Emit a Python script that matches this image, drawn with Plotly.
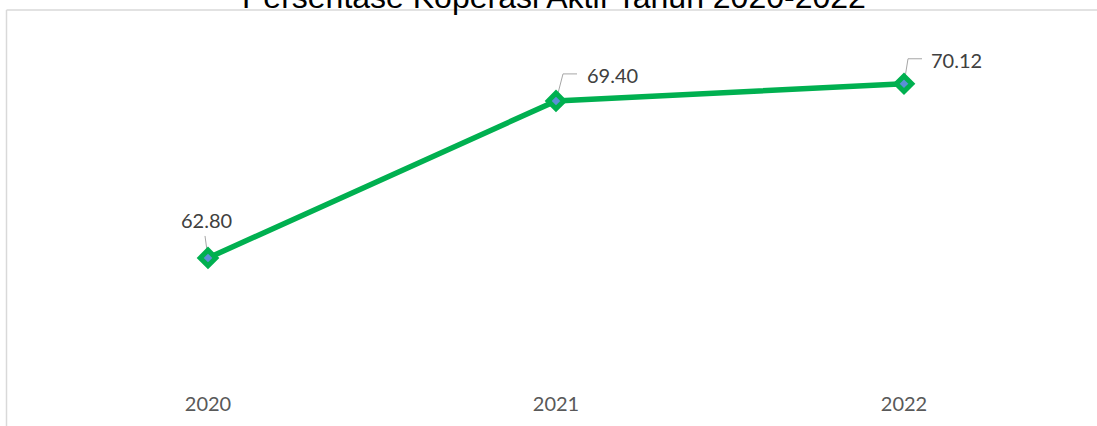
import plotly.graph_objects as go

years = ["2020", "2021", "2022"]
values = [62.80, 69.40, 70.12]
labels = ["62.80", "69.40", "70.12"]
title_text = "Persentase Koperasi Aktif Tahun 2020-2022"

# label offsets (pixels) and leader-line paths (pixels relative to point)
label_shift = [(-2, 38), (56, 25.5), (52, 24)]
leader_paths = [
    "M 0 0 L -3 22",
    "M 0 0 L 7 27 L 21 27",
    "M 0 0 L 4 25 L 18 25",
]

W, H = 1097, 426
ML, MR, MT, MB = 34, 19, 30, 36
pw = W - ML - MR
ph = H - MT - MB

def px(p):
    return (p - ML) / pw

def py(q):
    return (H - MB - q) / ph

green = "#00B050"

fig = go.Figure()
fig.add_trace(go.Scatter(
    x=years, y=values, mode="lines+markers",
    line=dict(color=green, width=5.5),
    marker=dict(symbol="diamond", size=12, color="#5B8FD8",
                line=dict(color=green, width=5)),
    hoverinfo="skip", showlegend=False,
))

shapes = []
for i, (yr, v, path) in enumerate(zip(years, values, leader_paths)):
    shapes.append(dict(type="path", xref="x", yref="y",
                       xsizemode="pixel", ysizemode="pixel",
                       xanchor=i, yanchor=v, path=path,
                       line=dict(color="#A6A6A6", width=1), layer="below"))

# chart frame (top and left border)
shapes.append(dict(type="line", xref="paper", yref="paper",
                   x0=px(6.5), x1=px(1097), y0=py(10), y1=py(10),
                   line=dict(color="#D9D9D9", width=1.5)))
shapes.append(dict(type="line", xref="paper", yref="paper",
                   x0=px(6.5), x1=px(6.5), y0=py(10), y1=py(427),
                   line=dict(color="#D9D9D9", width=1.5)))

annotations = []
for i, (yr, v, lab, (dx, dy)) in enumerate(zip(years, values, labels, label_shift)):
    annotations.append(dict(x=i, y=v, xref="x", yref="y", text=lab,
                            showarrow=False, xanchor="center", yanchor="middle",
                            xshift=dx, yshift=dy,
                            font=dict(family="Lato", size=20, color="#404040")))

annotations.append(dict(x=px(554), y=py(6), xref="paper", yref="paper",
                        text=title_text, showarrow=False,
                        xanchor="center", yanchor="bottom", yshift=-11,
                        font=dict(family="Liberation Sans, Arial", size=32, color="#000000")))

fig.update_layout(
    width=W, height=H,
    margin=dict(l=ML, r=MR, t=MT, b=MB),
    paper_bgcolor="white", plot_bgcolor="white",
    shapes=shapes, annotations=annotations,
    xaxis=dict(type="category", range=[-0.5, 2.5], showgrid=False,
               showline=False, zeroline=False, ticks="",
               tickfont=dict(family="Lato", size=20, color="#595959")),
    yaxis=dict(range=[57.25, 72.38], visible=False, showgrid=False),
)

fig.write_html("out.html", config={"displayModeBar": False},
               post_script="document.body.style.margin='0';")
